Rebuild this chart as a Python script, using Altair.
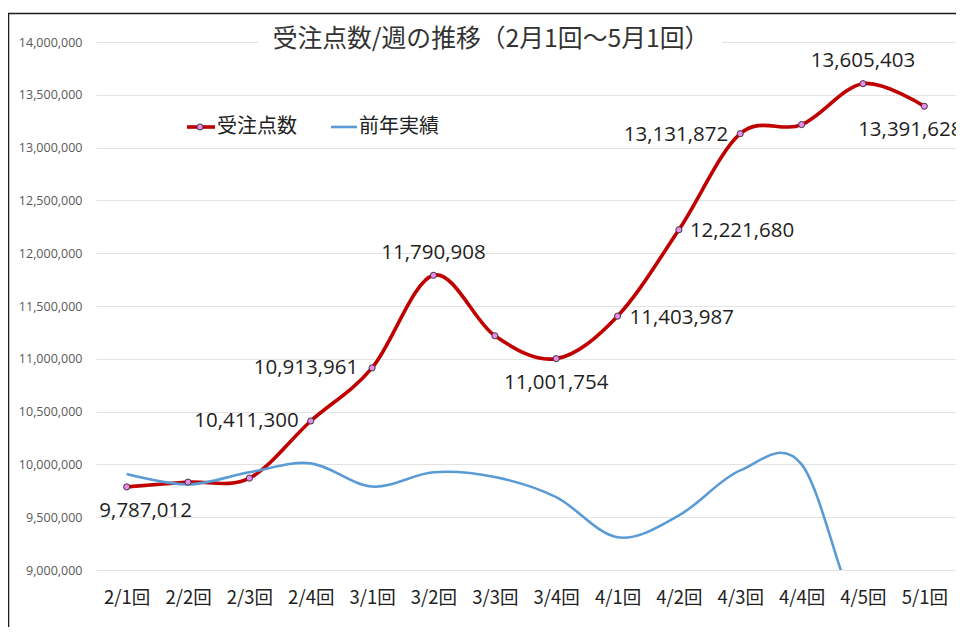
import altair as alt
import pandas as pd

weeks = ["2/1回", "2/2回", "2/3回", "2/4回", "3/1回", "3/2回", "3/3回",
         "3/4回", "4/1回", "4/2回", "4/3回", "4/4回", "4/5回", "5/1回"]
orders = [9787012, 9832000, 9870000, 10411300, 10913961, 11790908, 11218000,
          11001754, 11403987, 12221680, 13131872, 13218000, 13605403, 13391628]
prev_year = [9910000, 9810000, 9925000, 10010000, 9790000, 9925000, 9880000,
             9690000, 9310000, 9517000, 9943000, 10000000, 8500000, 8500000]
labeled = ["2/1回", "2/4回", "3/1回", "3/2回", "3/4回", "4/1回", "4/2回",
           "4/3回", "4/5回", "5/1回"]
y_ticks = [9000000, 9500000, 10000000, 10500000, 11000000, 11500000,
           12000000, 12500000, 13000000, 13500000, 14000000]

title_text = "受注点数/週の推移（2月1回～5月1回）"
series_names = ["受注点数", "前年実績"]

df = pd.DataFrame({"week": weeks, "orders": orders, "prev": prev_year})
df["label"] = [f"{v:,}" for v in orders]

W, H = 859, 528
JP = "Noto Sans CJK JP"
NUM = "Open Sans"

x_axis = alt.Axis(title=None, labelAngle=0, labelFont=JP, labelFontSize=18.5,
                  labelColor="#222222", labelPadding=18, ticks=False,
                  domain=False, grid=False)
x_scale = alt.Scale(type="point", padding=0.5)
x_enc = alt.X("week:N", sort=weeks, scale=x_scale, axis=x_axis)

y_scale = alt.Scale(domain=[9000000, 14000000], nice=False, zero=False)
y_axis = alt.Axis(title=None, values=y_ticks,
                  labelExpr="format(datum.value, ',')",
                  labelFont=NUM, labelFontSize=12.5, labelColor="#595959",
                  labelPadding=14, ticks=False, domain=False,
                  gridColor="#E3E3E3", gridWidth=1)
y_enc = alt.Y("orders:Q", scale=y_scale, axis=y_axis)
y_prev = alt.Y("prev:Q", scale=y_scale, axis=y_axis)

base = alt.Chart(df)

order_line = base.mark_line(interpolate="cardinal", color="#C00000",
                            strokeWidth=3.6).encode(x=x_enc, y=y_enc)

prev_line = base.mark_line(interpolate="cardinal", color="#5B9BD5", strokeWidth=2.6,
                           clip=True).encode(x=x_enc, y=y_prev)

order_pts = base.mark_point(shape="circle", filled=True, fill="#EE88EE",
                            stroke="#3A3A3A", strokeWidth=1, size=38, opacity=1).encode(
    x=x_enc, y=y_enc)

# label placement (style only)
placement = {
    "2/1回": dict(dx=19, dy=24, align="center"),
    "2/4回": dict(dx=-12, dy=0, align="right"),
    "3/1回": dict(dx=-14, dy=0, align="right"),
    "3/2回": dict(dx=0, dy=-22, align="center"),
    "3/4回": dict(dx=0, dy=24, align="center"),
    "4/1回": dict(dx=12, dy=2, align="left"),
    "4/2回": dict(dx=11, dy=1, align="left"),
    "4/3回": dict(dx=-12, dy=1, align="right"),
    "4/5回": dict(dx=0, dy=-23, align="center"),
    "5/1回": dict(dx=-14, dy=24, align="center"),
}
label_layers = []
for wk in labeled:
    p = placement[wk]
    label_layers.append(
        base.transform_filter(alt.datum.week == wk).mark_text(
            font=NUM, fontSize=20.5, color="#1F1F1F", baseline="middle",
            align=p["align"], dx=p["dx"], dy=p["dy"]).encode(
            x=x_enc, y=y_enc, text="label:N"))

deco = alt.Chart(pd.DataFrame({"k": [0]}))

# chart-area border (top and left)
border_top = deco.mark_rule(color="#1A1A1A", strokeWidth=1.5).encode(
    x=alt.value(-88), x2=alt.value(W + 20), y=alt.value(-28.5))
border_left = deco.mark_rule(color="#1A1A1A", strokeWidth=1.5).encode(
    x=alt.value(-87.5), y=alt.value(-29), y2=alt.value(H + 70))

# title with white background over the top gridline
title_bg = deco.mark_rect(color="white").encode(
    x=alt.value(162), x2=alt.value(626), y=alt.value(-12), y2=alt.value(14))
title = deco.mark_text(font=JP, fontSize=24.8, color="#333333", align="center",
                       baseline="middle").encode(
    x=alt.value(395), y=alt.value(-2), text=alt.value(title_text))

# legend
leg_red = deco.mark_rule(color="#C00000", strokeWidth=3.6).encode(
    x=alt.value(91), x2=alt.value(119), y=alt.value(85))
leg_pt = deco.mark_point(shape="circle", filled=True, fill="#EE88EE", stroke="#3A3A3A",
                         strokeWidth=1, size=38, opacity=1).encode(
    x=alt.value(104), y=alt.value(85))
leg_txt1 = deco.mark_text(font=JP, fontSize=20, color="#222222", align="left",
                          baseline="middle").encode(
    x=alt.value(121), y=alt.value(85), text=alt.value(series_names[0]))
leg_blue = deco.mark_rule(color="#5B9BD5", strokeWidth=2.6).encode(
    x=alt.value(235), x2=alt.value(261), y=alt.value(85))
leg_txt2 = deco.mark_text(font=JP, fontSize=20, color="#222222", align="left",
                          baseline="middle").encode(
    x=alt.value(263), y=alt.value(85), text=alt.value(series_names[1]))

chart = alt.layer(
    order_line, prev_line, order_pts, *label_layers,
    title_bg, title, border_top, border_left,
    leg_red, leg_pt, leg_txt1, leg_blue, leg_txt2,
).properties(
    width=W, height=H,
    autosize=alt.AutoSizeParams(type="none"),
    padding={"left": 88, "top": 34, "right": 1, "bottom": 57},
).configure(background="white").configure_view(stroke=None)

chart.save("out.html", embed_options={"renderer": "svg", "actions": False})
